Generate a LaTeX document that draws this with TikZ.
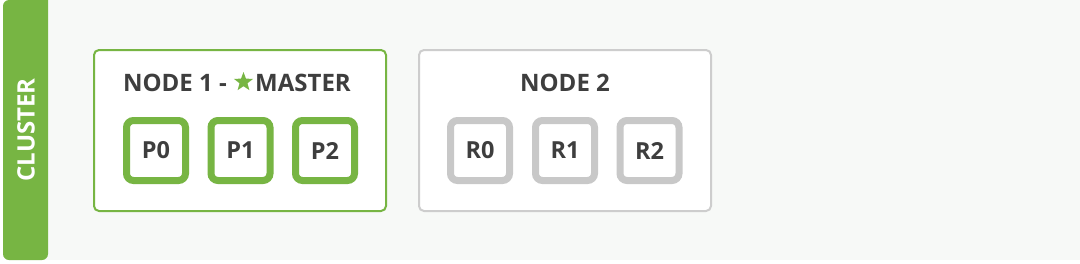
\documentclass[tikz,border=0pt]{standalone}
\usepackage{fontspec}
\usetikzlibrary{shapes.geometric}
\setmainfont{Open Sans}
\definecolor{cgreen}{HTML}{77B543}
\definecolor{cbg}{HTML}{F7F9F7}
\definecolor{ctext}{HTML}{3E3E3E}
\definecolor{cgrey}{HTML}{C8C8C8}
\definecolor{cgreyb}{HTML}{CDCDCD}
\begin{document}
\begin{tikzpicture}[x=1pt,y=-1pt,
  nodebox/.style={line width=2pt, fill=white, rounded corners=5pt},
  partbox/.style={draw, line width=7pt, fill=white, rounded corners=7pt, minimum width=59pt, minimum height=60pt, inner sep=0pt, font=\fontsize{23.5}{26}\selectfont\bfseries, text=ctext},
  title/.style={font=\fontsize{24}{28}\selectfont\bfseries, text=ctext, inner sep=0pt}]
\useasboundingbox (0,0) rectangle (1080,263);
\fill[white] (0,0) rectangle (1080,263);
\fill[cbg] (40,0) rectangle (1080,260);
\fill[cgreen, rounded corners=6pt] (48,0) -- (3,0) -- (3,260) -- (48,260) [sharp corners] -- cycle;
\node[rotate=90, text=white, font=\fontsize{24}{28}\selectfont\bfseries] (cl) at (26,130) {CLUSTER};
% node 1
\draw[nodebox, draw=cgreen] (94,50) rectangle (386,211);
\node[title, anchor=base east] (t1a) at (227,91) {NODE 1 -};
\node[star, star points=5, star point ratio=2.4, fill=cgreen, minimum size=20pt, inner sep=0pt] (st) at (243.5,82) {};
\node[title, anchor=base west] (t1b) at (255,91) {MASTER};
\node[partbox, draw=cgreen] (p0) at (156,150.5) {P0};
\node[partbox, draw=cgreen] (p1) at (240.5,150.5) {P1};
\node[partbox, draw=cgreen] (p2) at (325,150.5) {P2};
% node 2
\draw[nodebox, draw=cgreyb] (419,50) rectangle (711,211);
\node[title, anchor=base] (t2) at (565,91) {NODE 2};
\node[partbox, draw=cgrey] (r0) at (480,150.5) {R0};
\node[partbox, draw=cgrey] (r1) at (565,150.5) {R1};
\node[partbox, draw=cgrey] (r2) at (649.5,150.5) {R2};
\end{tikzpicture}
\end{document}
